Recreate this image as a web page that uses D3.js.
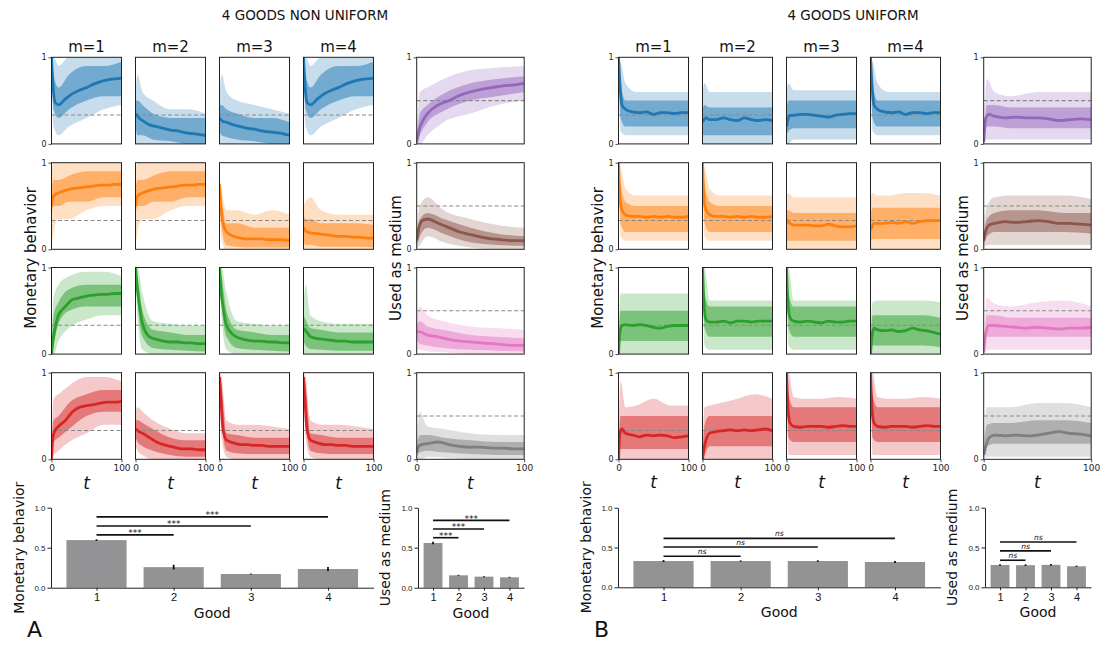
<!DOCTYPE html>
<html><head><meta charset="utf-8">
<script src="https://cdn.jsdelivr.net/npm/d3@7"></script>
<style>
body{margin:0;background:#fff;}
svg{display:block;font-family:"DejaVu Sans",sans-serif;}
</style>
</head><body>
<svg id="c" width="1103" height="645"></svg>
<script>
// ---------------- DATA ----------------
const T_MEAN = [0,2,5,10,20,30,40,50,60,70,80,90,100];
const T_BAND = [0,3,10,25,50,75,100];
const M_LABELS = ["m=1","m=2","m=3","m=4"];
const GOODS = [1,2,3,4];
const TITLES = ["4 GOODS NON UNIFORM","4 GOODS UNIFORM"];
const PANEL_LETTERS = ["A","B"];
const COLORS_GOOD = ["#1f77b4","#ff7f0e","#2ca02c","#d62728"];
const COLORS_MED = ["#9467bd","#8c564b","#e377c2","#7f7f7f"];
const CHANCE_MON = 1/3, CHANCE_MED = 0.5;

// mean traces per good: [m=1, m=2, m=3, m=4, used as medium]  (non uniform)
const A_mean_g1 = [
 [1.0,0.7,0.48,0.45,0.52,0.58,0.62,0.65,0.69,0.72,0.74,0.75,0.76],
 [0.35,0.33,0.3,0.27,0.22,0.2,0.18,0.16,0.15,0.13,0.12,0.11,0.1],
 [0.3,0.28,0.26,0.25,0.22,0.2,0.18,0.17,0.15,0.14,0.13,0.12,0.1],
 [1.0,0.7,0.48,0.45,0.52,0.58,0.62,0.65,0.69,0.72,0.74,0.75,0.76],
 [0.02,0.15,0.25,0.35,0.45,0.5,0.56,0.6,0.63,0.65,0.67,0.68,0.7]];
const A_mean_g2 = [
 [0.5,0.6,0.63,0.65,0.68,0.7,0.71,0.72,0.73,0.74,0.74,0.75,0.75],
 [0.5,0.6,0.63,0.65,0.68,0.7,0.71,0.72,0.73,0.74,0.74,0.75,0.75],
 [0.75,0.5,0.3,0.2,0.15,0.13,0.12,0.12,0.12,0.11,0.11,0.11,0.1],
 [0.25,0.22,0.2,0.19,0.18,0.17,0.16,0.15,0.15,0.14,0.14,0.13,0.13],
 [0.1,0.25,0.33,0.35,0.3,0.25,0.2,0.17,0.14,0.12,0.11,0.1,0.1]];
const A_mean_g3 = [
 [0.0,0.15,0.3,0.45,0.55,0.63,0.65,0.67,0.68,0.69,0.69,0.7,0.7],
 [1.0,0.8,0.6,0.35,0.2,0.17,0.15,0.14,0.14,0.13,0.13,0.12,0.12],
 [1.0,0.75,0.55,0.33,0.22,0.18,0.16,0.15,0.15,0.14,0.14,0.13,0.13],
 [0.3,0.28,0.25,0.2,0.18,0.17,0.16,0.15,0.15,0.14,0.14,0.14,0.14],
 [0.25,0.26,0.25,0.22,0.2,0.17,0.15,0.14,0.13,0.12,0.11,0.1,0.1]];
const A_mean_g4 = [
 [0.0,0.25,0.33,0.38,0.45,0.55,0.6,0.62,0.63,0.65,0.66,0.66,0.67],
 [0.35,0.34,0.32,0.3,0.25,0.2,0.17,0.15,0.13,0.12,0.12,0.11,0.11],
 [0.95,0.7,0.35,0.22,0.19,0.17,0.17,0.16,0.16,0.15,0.15,0.15,0.15],
 [0.95,0.7,0.35,0.22,0.19,0.17,0.17,0.16,0.16,0.15,0.15,0.15,0.15],
 [0.08,0.15,0.17,0.18,0.2,0.17,0.15,0.14,0.14,0.13,0.13,0.12,0.12]];

// spread of individual runs: [outer low, inner low, inner high, outer high] at T_BAND
const A_band_g1 = [
 [[0.9,0.2,0.1,0.2,0.3,0.4,0.45],[0.95,0.4,0.3,0.4,0.5,0.55,0.55],[1,0.8,0.65,0.8,0.9,0.9,0.95],[1,1,0.9,1,1,1,1]],
 [[0,0,0,0,0,0,0],[0.2,0.1,0.1,0.05,0.03,0,0],[0.5,0.5,0.45,0.35,0.3,0.3,0.3],[0.6,0.8,0.6,0.5,0.4,0.4,0.35]],
 [[0,0,0,0,0,0,0],[0.15,0.1,0.08,0.05,0.03,0,0],[0.45,0.45,0.4,0.35,0.3,0.3,0.25],[0.55,0.8,0.6,0.5,0.45,0.4,0.35]],
 [[0.9,0.2,0.1,0.2,0.3,0.4,0.45],[0.95,0.4,0.3,0.4,0.5,0.55,0.55],[1,0.8,0.65,0.8,0.9,0.9,0.95],[1,1,0.9,1,1,1,1]],
 [[0,0,0.1,0.25,0.35,0.45,0.5],[0,0.1,0.25,0.38,0.5,0.55,0.6],[0.05,0.35,0.45,0.58,0.7,0.75,0.78],[0.1,0.6,0.65,0.75,0.85,0.88,0.9]]];
const A_band_g2 = [
 [[0,0.2,0.35,0.35,0.45,0.5,0.5],[0.4,0.5,0.5,0.55,0.55,0.6,0.6],[0.7,0.8,0.8,0.85,0.9,0.9,0.9],[0.9,1,1,1,1,1,1]],
 [[0,0.2,0.35,0.35,0.45,0.5,0.5],[0.4,0.5,0.5,0.55,0.55,0.6,0.6],[0.7,0.8,0.8,0.85,0.9,0.9,0.9],[0.9,1,1,1,1,1,1]],
 [[0.6,0.1,0,0,0,0,0],[0.7,0.25,0.05,0.03,0.02,0.02,0.02],[0.8,0.6,0.3,0.3,0.25,0.25,0.25],[0.8,0.7,0.45,0.45,0.4,0.45,0.4]],
 [[0,0,0,0,0,0,0],[0.1,0.05,0.05,0.03,0.03,0.03,0.02],[0.4,0.35,0.35,0.3,0.3,0.3,0.28],[0.5,0.55,0.6,0.45,0.4,0.4,0.4]],
 [[0,0.05,0.15,0.08,0.02,0,0],[0.05,0.15,0.25,0.18,0.08,0.05,0.04],[0.15,0.35,0.42,0.35,0.25,0.18,0.15],[0.25,0.5,0.6,0.45,0.35,0.28,0.25]]];
const A_band_g3 = [
 [[0,0,0.15,0.3,0.4,0.45,0.45],[0,0.1,0.35,0.5,0.55,0.55,0.55],[0.05,0.45,0.6,0.75,0.8,0.8,0.8],[0.1,0.65,0.8,0.9,0.95,0.95,0.9]],
 [[0.95,0.4,0.05,0,0,0,0],[1,0.6,0.2,0.07,0.05,0.04,0.03],[1,0.9,0.5,0.28,0.25,0.22,0.22],[1,1,0.7,0.38,0.35,0.33,0.33]],
 [[0.95,0.4,0.05,0,0,0,0],[1,0.6,0.2,0.07,0.05,0.04,0.03],[1,0.9,0.5,0.28,0.25,0.22,0.22],[1,1,0.7,0.38,0.35,0.33,0.33]],
 [[0,0,0,0,0,0,0],[0.15,0.1,0.06,0.05,0.04,0.04,0.04],[0.45,0.4,0.3,0.28,0.25,0.25,0.25],[0.55,0.8,0.45,0.38,0.35,0.35,0.35]],
 [[0.05,0.05,0.03,0.02,0,0,0],[0.15,0.12,0.1,0.07,0.05,0.04,0.03],[0.35,0.38,0.32,0.28,0.22,0.2,0.18],[0.45,0.55,0.45,0.38,0.32,0.3,0.28]]];
const A_band_g4 = [
 [[0,0.05,0.1,0.2,0.3,0.4,0.4],[0,0.2,0.25,0.35,0.5,0.55,0.55],[0.1,0.45,0.5,0.65,0.75,0.8,0.8],[0.2,0.7,0.75,0.85,0.95,0.95,0.9]],
 [[0.15,0.1,0.05,0,0,0,0],[0.25,0.2,0.15,0.1,0.05,0.03,0.03],[0.45,0.45,0.42,0.35,0.25,0.22,0.22],[0.55,0.6,0.55,0.45,0.35,0.3,0.3]],
 [[0.9,0.25,0.03,0,0,0,0],[0.95,0.45,0.1,0.07,0.06,0.06,0.06],[1,0.85,0.3,0.28,0.25,0.25,0.25],[1,0.95,0.45,0.4,0.4,0.38,0.35]],
 [[0.9,0.25,0.03,0,0,0,0],[0.95,0.45,0.1,0.07,0.06,0.06,0.06],[1,0.85,0.3,0.28,0.25,0.25,0.25],[1,0.95,0.45,0.4,0.4,0.38,0.35]],
 [[0,0,0.03,0.02,0,0,0],[0.03,0.08,0.1,0.08,0.06,0.05,0.05],[0.15,0.28,0.28,0.25,0.22,0.2,0.2],[0.2,0.55,0.38,0.35,0.3,0.28,0.28]]];

// uniform
const B_mean_g1 = [
 [1.0,0.7,0.45,0.4,0.37,0.36,0.37,0.34,0.36,0.36,0.35,0.36,0.36],
 [0.25,0.28,0.3,0.28,0.28,0.3,0.28,0.27,0.3,0.28,0.27,0.28,0.27],
 [0.2,0.28,0.33,0.33,0.34,0.34,0.33,0.32,0.31,0.33,0.34,0.35,0.35],
 [1.0,0.7,0.45,0.4,0.37,0.36,0.37,0.34,0.36,0.36,0.35,0.36,0.36],
 [0.02,0.3,0.34,0.32,0.3,0.31,0.3,0.3,0.29,0.27,0.28,0.29,0.28]];
const B_mean_g2 = [
 [1.0,0.6,0.45,0.4,0.38,0.38,0.37,0.38,0.37,0.38,0.37,0.37,0.38],
 [1.0,0.6,0.45,0.4,0.38,0.38,0.37,0.38,0.37,0.38,0.37,0.37,0.38],
 [0.35,0.32,0.3,0.28,0.28,0.28,0.27,0.27,0.29,0.27,0.26,0.26,0.27],
 [0.22,0.26,0.3,0.3,0.3,0.31,0.3,0.32,0.3,0.32,0.33,0.33,0.33],
 [0.1,0.22,0.28,0.3,0.32,0.31,0.32,0.33,0.32,0.3,0.3,0.29,0.28]];
const B_mean_g3 = [
 [0.0,0.25,0.33,0.34,0.33,0.34,0.33,0.31,0.3,0.32,0.33,0.33,0.33],
 [1.0,0.6,0.4,0.37,0.37,0.38,0.36,0.38,0.38,0.37,0.38,0.38,0.38],
 [1.0,0.6,0.42,0.38,0.37,0.38,0.37,0.36,0.38,0.37,0.37,0.38,0.38],
 [0.0,0.2,0.3,0.28,0.27,0.28,0.26,0.27,0.3,0.28,0.27,0.25,0.23],
 [0.02,0.25,0.33,0.33,0.32,0.31,0.3,0.31,0.3,0.29,0.3,0.3,0.31]];
const B_mean_g4 = [
 [0.0,0.3,0.35,0.3,0.28,0.26,0.28,0.27,0.28,0.27,0.25,0.26,0.27],
 [0.0,0.12,0.22,0.3,0.32,0.33,0.34,0.33,0.34,0.33,0.34,0.35,0.33],
 [1.0,0.6,0.42,0.38,0.37,0.38,0.38,0.38,0.37,0.38,0.39,0.38,0.38],
 [1.0,0.6,0.42,0.38,0.37,0.38,0.38,0.38,0.37,0.38,0.39,0.38,0.38],
 [0.05,0.15,0.25,0.28,0.27,0.28,0.27,0.28,0.3,0.32,0.3,0.29,0.27]];

const B_band_g1 = [
 [[0.95,0.15,0.1,0.1,0.1,0.1,0.1],[1,0.3,0.2,0.2,0.2,0.2,0.2],[1,0.7,0.5,0.5,0.5,0.5,0.5],[1,0.95,0.7,0.6,0.6,0.6,0.6]],
 [[0,0,0,0,0,0,0],[0.1,0.1,0.1,0.1,0.1,0.1,0.1],[0.4,0.45,0.42,0.42,0.42,0.42,0.42],[0.6,0.7,0.6,0.6,0.6,0.6,0.6]],
 [[0,0,0.05,0.05,0.05,0.05,0.05],[0.1,0.15,0.18,0.18,0.18,0.18,0.18],[0.4,0.5,0.5,0.5,0.5,0.5,0.5],[0.6,0.7,0.62,0.62,0.62,0.62,0.62]],
 [[0.95,0.15,0.1,0.1,0.1,0.1,0.1],[1,0.3,0.2,0.2,0.2,0.2,0.2],[1,0.7,0.5,0.5,0.5,0.5,0.5],[1,0.95,0.7,0.6,0.6,0.6,0.6]],
 [[0,0.05,0.05,0.05,0.05,0.05,0.05],[0,0.2,0.2,0.18,0.18,0.18,0.18],[0.05,0.45,0.45,0.42,0.42,0.42,0.42],[0.1,0.75,0.6,0.55,0.6,0.6,0.6]]];
const B_band_g2 = [
 [[0.95,0.15,0.1,0.1,0.1,0.1,0.1],[1,0.3,0.2,0.2,0.2,0.2,0.2],[1,0.75,0.55,0.5,0.5,0.5,0.5],[1,0.95,0.7,0.62,0.62,0.62,0.62]],
 [[0.95,0.15,0.1,0.1,0.1,0.1,0.1],[1,0.3,0.2,0.2,0.2,0.2,0.2],[1,0.75,0.55,0.5,0.5,0.5,0.5],[1,0.95,0.7,0.62,0.62,0.62,0.62]],
 [[0,0,0,0,0,0,0],[0.1,0.1,0.1,0.1,0.1,0.1,0.1],[0.45,0.45,0.42,0.42,0.42,0.42,0.42],[0.6,0.65,0.6,0.6,0.6,0.6,0.6]],
 [[0,0,0,0,0,0,0],[0.1,0.12,0.12,0.12,0.12,0.12,0.12],[0.4,0.48,0.48,0.48,0.48,0.48,0.48],[0.6,0.65,0.62,0.62,0.65,0.65,0.62]],
 [[0,0.05,0.05,0.05,0.05,0.05,0.05],[0.05,0.15,0.2,0.2,0.2,0.2,0.18],[0.15,0.35,0.42,0.45,0.45,0.42,0.42],[0.25,0.5,0.6,0.62,0.62,0.62,0.58]]];
const B_band_g3 = [
 [[0,0,0,0,0,0,0],[0,0.15,0.15,0.15,0.15,0.15,0.15],[0.1,0.5,0.5,0.5,0.5,0.5,0.5],[0.2,0.7,0.7,0.7,0.7,0.7,0.7]],
 [[0.95,0.1,0.05,0.05,0.05,0.05,0.05],[1,0.3,0.2,0.2,0.2,0.2,0.2],[1,0.7,0.55,0.55,0.55,0.55,0.55],[1,1,0.62,0.62,0.62,0.62,0.62]],
 [[0.95,0.1,0.05,0.05,0.05,0.05,0.05],[1,0.3,0.2,0.2,0.2,0.2,0.2],[1,0.7,0.55,0.55,0.55,0.55,0.55],[1,1,0.62,0.62,0.62,0.62,0.62]],
 [[0,0,0,0,0,0,0],[0,0.1,0.1,0.1,0.1,0.1,0.08],[0.1,0.45,0.45,0.45,0.45,0.45,0.42],[0.2,0.6,0.62,0.62,0.62,0.62,0.6]],
 [[0,0.05,0.05,0.05,0.05,0.05,0.05],[0,0.2,0.2,0.2,0.2,0.2,0.2],[0.05,0.45,0.45,0.42,0.42,0.42,0.42],[0.1,0.65,0.58,0.55,0.6,0.62,0.55]]];
const B_band_g4 = [
 [[0,0,0,0,0,0,0],[0,0.12,0.12,0.12,0.12,0.12,0.12],[0.1,0.5,0.5,0.5,0.5,0.5,0.5],[0.2,0.9,0.6,0.62,0.7,0.62,0.62]],
 [[0,0,0,0,0,0,0],[0,0.05,0.15,0.15,0.15,0.15,0.15],[0.05,0.4,0.5,0.5,0.5,0.5,0.5],[0.1,0.6,0.62,0.65,0.7,0.75,0.7]],
 [[0.95,0.05,0.05,0.05,0.05,0.05,0.05],[1,0.25,0.2,0.2,0.2,0.2,0.2],[1,0.75,0.6,0.6,0.6,0.6,0.6],[1,1,0.72,0.7,0.7,0.72,0.7]],
 [[0.95,0.05,0.05,0.05,0.05,0.05,0.05],[1,0.25,0.2,0.2,0.2,0.2,0.2],[1,0.75,0.6,0.6,0.6,0.6,0.6],[1,1,0.72,0.7,0.7,0.72,0.7]],
 [[0,0.03,0.03,0.03,0.03,0.03,0.03],[0.03,0.15,0.18,0.18,0.18,0.18,0.18],[0.1,0.4,0.42,0.42,0.45,0.45,0.42],[0.2,0.6,0.6,0.6,0.65,0.65,0.6]]];

// bar summaries
const A_bar_mon = [0.595,0.257,0.171,0.234];
const A_err_mon = [0.01,0.03,0.006,0.025];
const A_bar_med = [0.559,0.155,0.138,0.13];
const A_err_med = [0.015,0.006,0.006,0.006];
const B_bar_mon = [0.33,0.33,0.33,0.318];
const B_err_mon = [0.012,0.008,0.01,0.012];
const B_bar_med = [0.28,0.278,0.282,0.264];
const B_err_med = [0.01,0.01,0.012,0.008];
const SIG_PAIRS = [[1,2],[1,3],[1,4]];
const A_sig_mon_y = [0.66,0.772,0.885];
const A_sig_med_y = [0.625,0.734,0.842];
const B_sig_mon_y = [0.39,0.507,0.615];
const B_sig_med_y = [0.34,0.457,0.57];
const A_sig_label = "***", B_sig_label = "ns";

// ---------------- DRAWING ----------------
const svg = d3.select("#c");
const halves = [
 {ox:0, means:[A_mean_g1,A_mean_g2,A_mean_g3,A_mean_g4], bands:[A_band_g1,A_band_g2,A_band_g3,A_band_g4],
  barMon:A_bar_mon, errMon:A_err_mon, barMed:A_bar_med, errMed:A_err_med,
  sigMon:A_sig_mon_y, sigMed:A_sig_med_y, sigLabel:A_sig_label, titleX:305, barY0:587.7, barY1:507.7, tY:484},
 {ox:567, means:[B_mean_g1,B_mean_g2,B_mean_g3,B_mean_g4], bands:[B_band_g1,B_band_g2,B_band_g3,B_band_g4],
  barMon:B_bar_mon, errMon:B_err_mon, barMed:B_bar_med, errMed:B_err_med,
  sigMon:B_sig_mon_y, sigMed:B_sig_med_y, sigLabel:B_sig_label, titleX:286, barY0:587.3, barY1:507.7, tY:483}
];
const COL_X = [51.5,135.5,219.5,303.5], COL_W = 70;
const MED_X = 416.7, MED_W = 107.5;
const ROW_Y = [57.3,162.7,267.5,372.7], ROW_H = 86.6;

function styleAxis(g, fs){
  g.selectAll(".domain").remove();
  g.selectAll("line").attr("stroke","#222").attr("stroke-width",0.8);
  g.selectAll("text").attr("font-size",fs).attr("fill","#222").attr("font-family","DejaVu Sans");
}

halves.forEach((H, hi) => {
  const root = svg.append("g").attr("transform",`translate(${H.ox},0)`);
  root.append("text").attr("x",H.titleX).attr("y",20).attr("text-anchor","middle")
    .attr("font-size",13.5).attr("fill","#111").text(TITLES[hi]);
  M_LABELS.forEach((lab,c)=>{
    root.append("text").attr("x",COL_X[c]+COL_W/2).attr("y",52).attr("text-anchor","middle")
      .attr("font-size",15).attr("fill","#111").text(lab);
  });
  for(let r=0;r<4;r++){
    for(let c=0;c<5;c++){
      const isMed = c===4;
      const x0 = isMed?MED_X:COL_X[c], w = isMed?MED_W:COL_W;
      const y0 = ROW_Y[r], h = ROW_H;
      const x = d3.scaleLinear([0,100],[x0,x0+w]);
      const y = d3.scaleLinear([0,1],[y0+h,y0]);
      const color = isMed?COLORS_MED[r]:COLORS_GOOD[r];
      const mean = H.means[r][c], band = H.bands[r][c];
      const clipId = `clip${hi}_${r}_${c}`;
      root.append("clipPath").attr("id",clipId).append("rect")
        .attr("x",x0).attr("y",y0).attr("width",w).attr("height",h);
      const pg = root.append("g").attr("clip-path",`url(#${clipId})`);
      const areaOuter = d3.area().x((d,i)=>x(T_BAND[i])).y0((d,i)=>y(band[0][i])).y1((d,i)=>y(band[3][i])).curve(d3.curveMonotoneX);
      const areaInner = d3.area().x((d,i)=>x(T_BAND[i])).y0((d,i)=>y(band[1][i])).y1((d,i)=>y(band[2][i])).curve(d3.curveMonotoneX);
      pg.append("path").datum(T_BAND).attr("d",areaOuter).attr("fill",color).attr("fill-opacity",0.25);
      pg.append("path").datum(T_BAND).attr("d",areaInner).attr("fill",color).attr("fill-opacity",0.5);
      pg.append("line").attr("x1",x0).attr("x2",x0+w)
        .attr("y1",y(isMed?CHANCE_MED:CHANCE_MON)).attr("y2",y(isMed?CHANCE_MED:CHANCE_MON))
        .attr("stroke","#888").attr("stroke-width",1.1).attr("stroke-dasharray","4,2.5");
      const line = d3.line().x((d,i)=>x(T_MEAN[i])).y(d=>y(d)).curve(d3.curveMonotoneX);
      pg.append("path").datum(mean).attr("d",line).attr("fill","none").attr("stroke",color).attr("stroke-width",2.8);
      root.append("rect").attr("x",x0).attr("y",y0).attr("width",w).attr("height",h)
        .attr("fill","none").attr("stroke","#222").attr("stroke-width",1);
      if(c===0||isMed){
        const ay = root.append("g").attr("transform",`translate(${x0},0)`)
          .call(d3.axisLeft(y).tickValues([0,1]).tickFormat(d3.format("d")).tickSize(3).tickPadding(2));
        styleAxis(ay,8);
      }
      if(r===3){
        const ax = root.append("g").attr("transform",`translate(0,${y0+h})`)
          .call(d3.axisBottom(x).tickValues([0,100]).tickFormat(d3.format("d")).tickSize(3).tickPadding(2));
        styleAxis(ax,9);
        root.append("text").attr("x",x0+w/2).attr("y",H.tY+5).attr("text-anchor","middle")
          .attr("font-size",17).attr("font-style","italic").attr("fill","#111").text("t");
      }
    }
  }
  root.append("text").attr("transform","translate(36,258) rotate(-90)").attr("text-anchor","middle")
    .attr("font-size",15).attr("fill","#111").text("Monetary behavior");
  root.append("text").attr("transform","translate(401,258) rotate(-90)").attr("text-anchor","middle")
    .attr("font-size",15).attr("fill","#111").text("Used as medium");

  function barChart(vals, errs, sigY, xr, domain, bw, label, labelX){
    const x = d3.scaleLinear(domain, xr);
    const y = d3.scaleLinear([0,1],[H.barY0,H.barY1]);
    const g = root.append("g");
    g.selectAll("rect.bar").data(vals).join("rect").attr("class","bar")
      .attr("x",(d,i)=>x(GOODS[i]-bw/2)).attr("width",(d,i)=>x(GOODS[i]+bw/2)-x(GOODS[i]-bw/2))
      .attr("y",d=>y(d)).attr("height",d=>y(0)-y(d)).attr("fill","#939396");
    g.selectAll("line.err").data(vals).join("line").attr("class","err")
      .attr("x1",(d,i)=>x(GOODS[i])).attr("x2",(d,i)=>x(GOODS[i]))
      .attr("y1",(d,i)=>y(d-errs[i])).attr("y2",(d,i)=>y(d+errs[i]))
      .attr("stroke","#111").attr("stroke-width",1.8);
    SIG_PAIRS.forEach((p,k)=>{
      const yy = y(sigY[k]);
      g.append("line").attr("x1",x(p[0])).attr("x2",x(p[1])).attr("y1",yy).attr("y2",yy)
        .attr("stroke","#111").attr("stroke-width",1.6);
      const isNs = H.sigLabel==="ns";
      g.append("text").attr("x",(x(p[0])+x(p[1]))/2).attr("y",isNs?yy-2:yy+1.5)
        .attr("text-anchor","middle").attr("font-size",isNs?7.5:9)
        .attr("font-style",isNs?"italic":"normal").attr("fill","#111").text(H.sigLabel);
    });
    const ay = g.append("g").attr("transform",`translate(${xr[0]},0)`)
      .call(d3.axisLeft(y).tickValues([0,0.5,1]).tickFormat(d3.format(".1f")).tickSize(3.5).tickSizeOuter(0).tickPadding(2));
    ay.select(".domain").attr("stroke","#222").attr("stroke-width",1);
    ay.selectAll("line").attr("stroke","#222");
    ay.selectAll("text").attr("font-size",8).attr("fill","#222");
    const ax = g.append("g").attr("transform",`translate(0,${H.barY0})`)
      .call(d3.axisBottom(x).tickValues(GOODS).tickFormat(d3.format("d")).tickSize(3).tickSizeOuter(0).tickPadding(3));
    ax.select(".domain").attr("stroke","#222").attr("stroke-width",1);
    ax.selectAll("line").attr("stroke","#222");
    ax.selectAll("text").attr("font-size",11).attr("fill","#111");
    g.append("text").attr("x",(xr[0]+xr[1])/2).attr("y",H.barY0+30).attr("text-anchor","middle")
      .attr("font-size",14).attr("fill","#111").text("Good");
    g.append("text").attr("transform",`translate(${labelX},${H.barY0-40}) rotate(-90)`).attr("text-anchor","middle")
      .attr("font-size",14).attr("fill","#111").text(label);
  }
  barChart(H.barMon, H.errMon, H.sigMon, [51,373.5], [0.41,4.59], 0.78, "Monetary behavior", 24);
  barChart(H.barMed, H.errMed, H.sigMed, [418,524], [0.41,4.57], 0.74, "Used as medium", 390);

  root.append("text").attr("x",27).attr("y",637).attr("font-size",22).attr("fill","#111").text(PANEL_LETTERS[hi]);
});
</script>
</body></html>
